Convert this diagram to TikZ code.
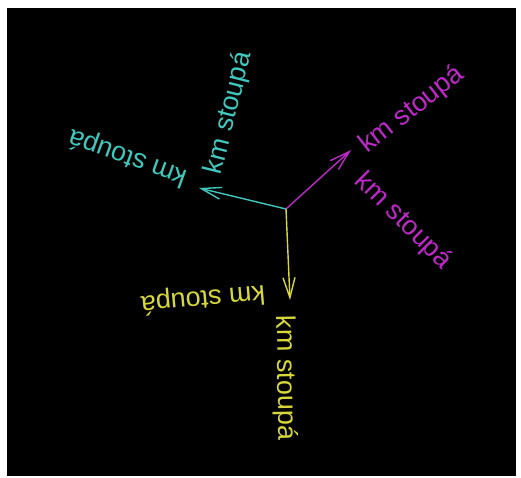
\documentclass[tikz,border=0pt]{standalone}
\usepackage{fontspec}
\setmainfont{Liberation Sans}
\usetikzlibrary{arrows.meta}
\definecolor{cy}{RGB}{64,200,190}
\definecolor{mg}{RGB}{190,40,200}
\definecolor{yl}{RGB}{215,215,60}
\begin{document}
\begin{tikzpicture}[x=1pt,y=-1pt,
  lbl/.style={font=\fontsize{27}{27}\selectfont, inner sep=0pt, anchor=center},
  vec/.style={line width=1.4pt, -{Straight Barb[length=20pt,width=12pt,line width=1.4pt]}}]
\fill[white] (0,0) rectangle (521,477);
\fill[black] (7,8) rectangle (516,476);
\useasboundingbox (0,0) rectangle (521,477);
\node[lbl, text=cy, rotate=160] (c1) at (128,157) {km stoupá};
\node[lbl, text=cy, rotate=76] (c2) at (229,113) {km stoupá};
\node[lbl, text=mg, rotate=38] (m1) at (412,110) {km stoupá};
\node[lbl, text=mg, rotate=-45] (m2) at (403,221) {km stoupá};
\node[lbl, text=yl, rotate=-89] (y1) at (285,378) {km stoupá};
\node[lbl, text=yl, rotate=-175] (y2) at (203,298) {km stoupá};
\coordinate (o) at (286,209);
\coordinate (ct) at (199,188);
\coordinate (mt) at (351,150);
\coordinate (yt) at (290,300);
\draw[vec, draw=cy] (o) -- (ct);
\draw[vec, draw=mg] (o) -- (mt);
\draw[vec, draw=yl] (o) -- (yt);
\end{tikzpicture}
\end{document}
